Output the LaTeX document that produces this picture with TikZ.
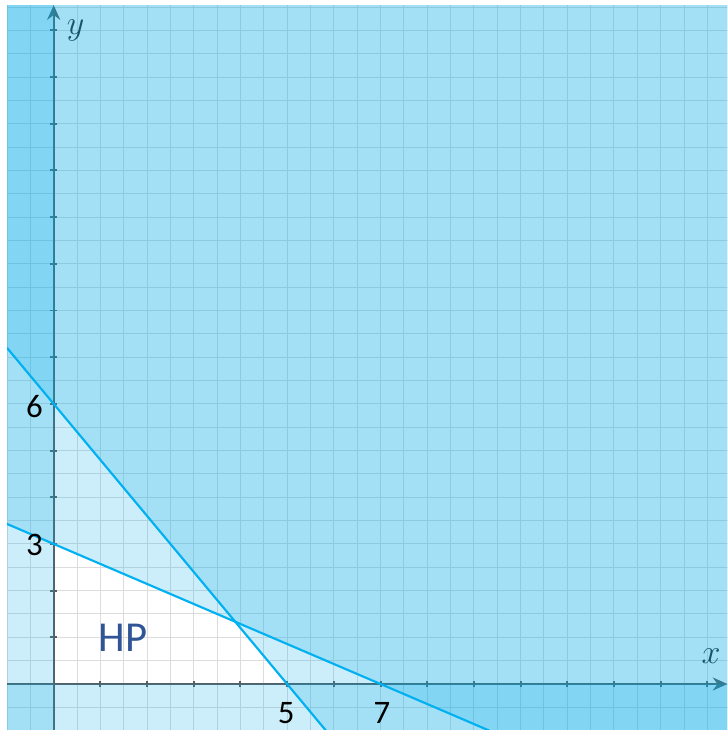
\documentclass[tikz,border=0pt]{standalone}
\usepackage{fontspec}
\setmainfont{Carlito}
\usetikzlibrary{arrows.meta}
\definecolor{shadeBlue}{RGB}{0,170,230}
\definecolor{lineBlue}{RGB}{0,176,240}
\definecolor{axisGray}{RGB}{85,95,100}
\definecolor{hpBlue}{RGB}{47,85,151}
\definecolor{gridGray}{RGB}{220,220,220}

\begin{document}
\begin{tikzpicture}[
    outside/.style={fill=shadeBlue, fill opacity=0.2},
    bound/.style={lineBlue, line width=1.3pt},
    axis/.style={axisGray, line width=1.2pt},
    numlabel/.style={font=\fontsize{20}{22}\selectfont},
    varlabel/.style={axisGray!40!black, font=\fontsize{22}{24}\selectfont}
  ]
  \useasboundingbox (-1.15,-0.985) rectangle (14.43,14.65);
  \begin{scope}
    \clip (-1,-1) rectangle (14.43,14.54);
    % grid
    \draw[gridGray, line width=0.6pt, step=0.5] (-1.5,-1.5) grid (15,15);
    % axes
    \draw[axis, -{Stealth[length=9pt,width=8pt,inset=3pt]}] (-1,0) -- (14.43,0);
    \draw[axis, -{Stealth[length=9pt,width=8pt,inset=3pt]}] (0,-1) -- (0,14.54);
    \foreach \k in {1,...,14} {
      \draw[axis] (\k,-0.07) -- (\k,0.07);
      \draw[axis] (-0.07,\k) -- (0.07,\k);
    }
    \node[varlabel] (xlab) at (14.08,0.6) {$x$};
    \node[varlabel] (ylab) at (0.47,14.0) {$y$};
    % excluded half-planes
    \fill[outside] (-1,-1) rectangle (0,14.54);
    \fill[outside] (-1,-1) rectangle (14.43,0);
    \fill[outside] (-1,7.2) -- (5.833,-1) -- (14.43,-1) -- (14.43,14.54) -- (-1,14.54) -- cycle;
    \fill[outside] (-1,3.4286) -- (9.333,-1) -- (14.43,-1) -- (14.43,14.54) -- (-1,14.54) -- cycle;
    % constraint lines
    \coordinate (a1) at (-1,7.2);
    \coordinate (b1) at (5.833,-1);
    \coordinate (a2) at (-1,3.4286);
    \coordinate (b2) at (9.333,-1);
    \draw[bound] (a1) -- (b1);
    \draw[bound] (a2) -- (b2);
  \end{scope}
  \node[numlabel] (six) at (-0.41,5.95) {6};
  \node[numlabel] (three) at (-0.41,2.97) {3};
  \node[numlabel] (five) at (4.98,-0.62) {5};
  \node[numlabel] (seven) at (7.03,-0.62) {7};
  \node[hpBlue, font=\fontsize{26}{30}\selectfont] (hp) at (1.49,0.98) {HP};
\end{tikzpicture}
\end{document}
